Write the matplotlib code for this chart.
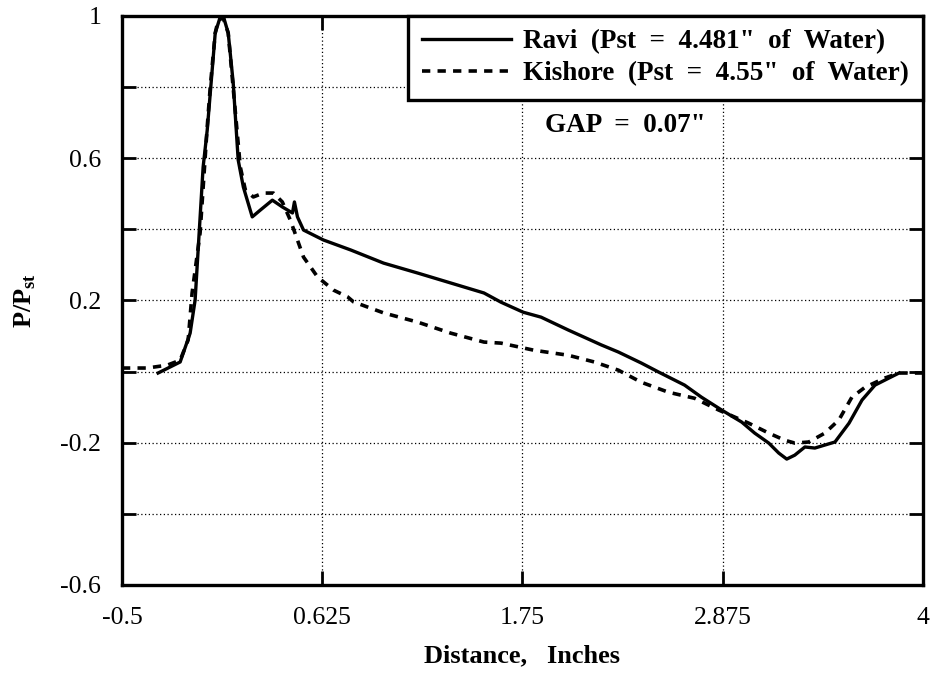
# plot.py - pressure distribution, Ravi vs Kishore (GAP = 0.07")
import matplotlib
matplotlib.use("Agg")
import matplotlib.pyplot as plt

plt.rcParams["font.family"] = ["Liberation Serif", "DejaVu Serif"]
plt.rcParams["mathtext.fontset"] = "custom"
plt.rcParams["mathtext.rm"] = "Liberation Serif:bold"
plt.rcParams["mathtext.bf"] = "Liberation Serif:bold"

# Ravi (solid)
ravi_x = [-0.297, -0.173, -0.117, -0.089, -0.044, -0.021, 0.024, 0.052, 0.069, 0.097,
          0.125, 0.153, 0.182, 0.232, 0.277, 0.345, 0.401, 0.458, 0.469, 0.486,
          0.520, 0.632, 0.785, 0.970, 1.162, 1.348, 1.534, 1.630, 1.754, 1.855,
          2.007, 2.193, 2.289, 2.418, 2.514, 2.661, 2.756, 2.869, 2.982, 3.055,
          3.134, 3.190, 3.235, 3.280, 3.337, 3.393, 3.506, 3.585, 3.658, 3.731,
          3.810, 3.866]
ravi_y = [-0.004, 0.027, 0.108, 0.201, 0.575, 0.679, 0.952, 0.997, 1.0, 0.952,
          0.812, 0.595, 0.519, 0.435, 0.454, 0.482, 0.463, 0.446, 0.477, 0.435,
          0.398, 0.370, 0.342, 0.305, 0.277, 0.249, 0.221, 0.195, 0.167, 0.153,
          0.117, 0.075, 0.055, 0.024, -0.001, -0.038, -0.072, -0.108, -0.142, -0.173,
          -0.201, -0.229, -0.246, -0.235, -0.212, -0.215, -0.198, -0.145, -0.080, -0.038,
          -0.018, -0.004]

# Kishore (dashed)
kish_x = [-0.5, -0.359, -0.246, -0.173, -0.128, -0.106, -0.061, -0.021, -0.004, 0.024,
          0.041, 0.069, 0.097, 0.165, 0.193, 0.238, 0.294, 0.351, 0.401, 0.446,
          0.486, 0.520, 0.599, 0.689, 0.768, 0.801, 0.970, 1.162, 1.348, 1.534,
          1.630, 1.815, 2.007, 2.154, 2.289, 2.418, 2.570, 2.717, 2.852, 3.021,
          3.134, 3.224, 3.280, 3.359, 3.449, 3.528, 3.601, 3.675, 3.787, 3.866,
          3.997]
kish_y = [0.010, 0.010, 0.018, 0.032, 0.089, 0.221, 0.390, 0.688, 0.800, 0.952,
          0.989, 0.994, 0.952, 0.575, 0.511, 0.491, 0.502, 0.502, 0.477, 0.426,
          0.370, 0.322, 0.266, 0.229, 0.210, 0.196, 0.165, 0.139, 0.108, 0.083,
          0.080, 0.060, 0.046, 0.027, 0.004, -0.030, -0.058, -0.075, -0.108, -0.145,
          -0.173, -0.193, -0.201, -0.198, -0.173, -0.136, -0.072, -0.044, -0.018, -0.004,
          -0.004]

x_ticks = [-0.5, 0.625, 1.75, 2.875, 4]
x_labels = ["-0.5", "0.625", "1.75", "2.875", "4"]
y_ticks = [-0.6, -0.4, -0.2, 0.0, 0.2, 0.4, 0.6, 0.8, 1.0]
y_labels = ["-0.6", "", "-0.2", "", "0.2", "", "0.6", "", "1"]

fig = plt.figure(figsize=(9.36, 6.73), dpi=100)
ax = fig.add_axes([0.1303, 0.1308, 0.8557, 0.8455])

ax.plot(ravi_x, ravi_y, color="black", lw=2.4, ls="-",
        label="Ravi  (Pst  =  4.481\"  of  Water)")
ax.plot(kish_x, kish_y, color="black", lw=2.6, ls=(0, (2.3, 2.0)),
        label="Kishore  (Pst  =  4.55\"  of  Water)")

ax.set_xlim(-0.5, 4)
ax.set_ylim(-0.6, 1)
ax.set_xticks(x_ticks)
ax.set_xticklabels(x_labels)
ax.set_yticks(y_ticks)
ax.set_yticklabels(y_labels)
ax.tick_params(direction="in", length=10, width=2, labelsize=18.5,
               top=True, right=True)
ax.tick_params(axis="x", pad=16)
ax.tick_params(axis="y", pad=15)
ax.grid(True, color="black", ls=(0, (1, 2)), lw=0.9)
for s in ax.spines.values():
    s.set_linewidth(2.4)

ax.set_xlabel("Distance,   Inches", fontsize=19, fontweight="bold", labelpad=11)
ax.set_ylabel(r"P/P$_{\mathbf{st}}$", fontsize=19, fontweight="bold", labelpad=16)

ax.text(2.33, 0.693, "GAP  =  0.07\"", fontsize=19.5, fontweight="bold",
        ha="center", va="center")

leg = ax.legend(loc="upper right", handlelength=3.3, handletextpad=0.45,
                borderaxespad=0, frameon=True, fancybox=False, borderpad=0.5,
                labelspacing=0.25, prop={"weight": "bold", "size": 19.5})
leg.get_frame().set_edgecolor("black")
leg.get_frame().set_linewidth(2.4)
leg.get_frame().set_alpha(1)

fig.savefig("out.png", dpi=100)
